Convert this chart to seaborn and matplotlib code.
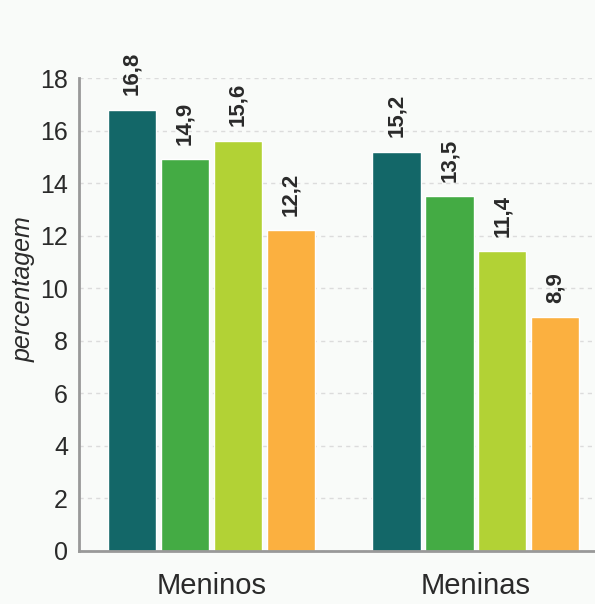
import matplotlib
matplotlib.use("Agg")
import matplotlib.pyplot as plt
import seaborn as sns
import pandas as pd

groups = ["Meninos", "Meninas"]
series = ["Série 1", "Série 2", "Série 3", "Série 4"]
meninos = [16.8, 14.9, 15.6, 12.2]
meninas = [15.2, 13.5, 11.4, 8.9]
colors = ["#136768", "#44ab44", "#b2d235", "#fbb040"]
yticks = [0, 2, 4, 6, 8, 10, 12, 14, 16, 18]

rows = []
for g, vals in zip(groups, [meninos, meninas]):
    for s, v in zip(series, vals):
        rows.append({"grupo": g, "serie": s, "valor": v})
df = pd.DataFrame(rows)

sns.set_style("white")
plt.rcParams["font.family"] = ["Liberation Sans", "DejaVu Sans"]

bg = "#f9fbf9"
fig = plt.figure(figsize=(5.95, 6.04), dpi=100, facecolor=bg)
ax = fig.add_axes([79 / 595, 53 / 604, 1 - 79 / 595, (551 - 78) / 604])
ax.set_facecolor(bg)

sns.barplot(data=df, x="grupo", y="valor", hue="serie", order=groups,
            hue_order=series, palette=colors, gap=0.09, width=0.8,
            saturation=1, legend=False, ax=ax, zorder=2)

for cont in ax.containers:
    labels = [f"{b.get_height():.1f}".replace(".", ",") for b in cont]
    ax.bar_label(cont, labels=labels, rotation=90, padding=10.5,
                 fontsize=16, fontweight="bold", color="#2a2a2a")

ax.set_xlim(-0.5, 1.45)
ax.set_ylim(0, 18)
ax.set_yticks(yticks)
ax.set_yticklabels([str(t) for t in yticks])
ax.yaxis.grid(True, linestyle=(0, (3, 3)), color="#dcdcdc", linewidth=1, zorder=0)
ax.set_axisbelow(True)
for side in ["top", "right"]:
    ax.spines[side].set_visible(False)
for side in ["left", "bottom"]:
    ax.spines[side].set_color("#999999")
    ax.spines[side].set_linewidth(2)
ax.tick_params(axis="y", length=0, pad=8, labelsize=18, labelcolor="#2a2a2a")
ax.tick_params(axis="x", length=0, pad=15, labelsize=21, labelcolor="#2a2a2a")
ax.set_xlabel("")
ax.set_ylabel("percentagem", fontsize=18, fontstyle="italic", color="#2a2a2a")
ax.yaxis.set_label_coords(-0.085, 0.554)

fig.savefig("out.png", dpi=100, facecolor=bg)
